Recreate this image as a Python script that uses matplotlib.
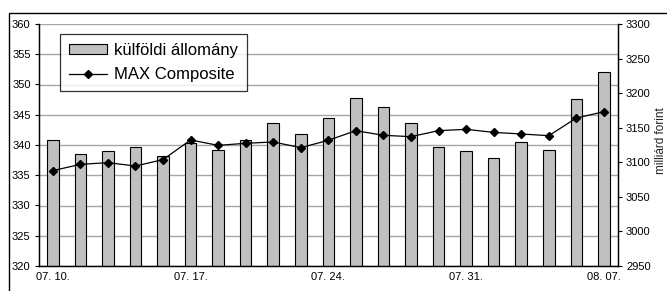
import numpy as np
import matplotlib.pyplot as plt
from matplotlib.patches import Rectangle

plt.rcParams["font.family"] = ["Liberation Sans", "DejaVu Sans"]

# trading days 07.10 - 08.07, labels on every Monday
dates = ["07. 10.", "07. 11.", "07. 12.", "07. 13.", "07. 14.",
         "07. 17.", "07. 18.", "07. 19.", "07. 20.", "07. 21.",
         "07. 24.", "07. 25.", "07. 26.", "07. 27.", "07. 28.",
         "07. 31.", "08. 01.", "08. 02.", "08. 03.", "08. 04.",
         "08. 07."]
tick_idx = [0, 5, 10, 15, 20]

# foreign holdings, milliárd forint (right axis)
kulfoldi = [3131.8, 3111.5, 3115.9, 3122.6, 3109.1, 3127.5, 3117.7,
            3131.8, 3156.9, 3141.4, 3163.6, 3193.4, 3179.8, 3156.9,
            3122.6, 3115.9, 3106.6, 3129.8, 3117.7, 3191.5, 3230.6]
# MAX Composite index (left axis)
max_comp = [335.76, 336.80, 337.08, 336.53, 337.58, 340.83, 339.94,
            340.28, 340.50, 339.56, 340.78, 342.37, 341.60, 341.38,
            342.37, 342.59, 342.09, 341.82, 341.54, 344.46, 345.50]

W, H = 667, 291
fig = plt.figure(figsize=(W / 100, H / 100), dpi=100)
fig.patch.set_facecolor("white")

# outer frame of the original exhibit
fig.add_artist(Rectangle((9 / W, -0.2), 1.0, 1 - 13 / H + 0.2,
                         transform=fig.transFigure, fill=False,
                         edgecolor="black", lw=1.0))

x = np.arange(len(dates))
left, right, top, bottom = 39 / W, 617.7 / W, 1 - 24 / H, 1 - 266 / H
ax = fig.add_axes([left, bottom, right - left, top - bottom])  # bars
ax2 = ax.twinx()                                              # line

# gridlines at the left-axis steps
for g in np.linspace(2950, 3300, 9):
    ax.axhline(g, color="#a6a6a6", lw=1.0, zorder=0)

bars = ax.bar(x, kulfoldi, width=0.42, color="#c0c0c0", edgecolor="black",
              linewidth=0.8, zorder=2, label="külföldi állomány")
ax.set_ylim(2950, 3300)
ax.set_yticks(np.arange(2950, 3301, 50))
ax.yaxis.tick_right()
ax.yaxis.set_label_position("right")
ax.set_ylabel("milliárd forint", fontsize=8.5, color="#222222")
ax.yaxis.set_label_coords(1.0645, 0.52)
ax.set_xlim(-0.5, len(dates) - 0.5)
ax.set_xticks([x[i] for i in tick_idx])
ax.set_xticklabels([dates[i] for i in tick_idx])
ax.tick_params(axis="x", length=0, labelsize=8, pad=4)
ax.tick_params(axis="y", direction="out", length=3, width=0.8,
               labelsize=8, pad=3)

line, = ax2.plot(x, max_comp, color="black", lw=0.9, marker="D",
                 markersize=4.2, label="MAX Composite")
ax2.set_ylim(320, 360)
ax2.set_yticks(np.arange(320, 361, 5))
ax2.yaxis.tick_left()
ax2.tick_params(axis="y", direction="out", length=3, width=0.8,
                labelsize=8, pad=3)

for a in (ax, ax2):
    a.spines["top"].set_visible(False)
    for s in ("left", "right", "bottom"):
        a.spines[s].set_linewidth(0.9)

leg = ax2.legend([bars, line], ["külföldi állomány", "MAX Composite"],
                 loc="upper left", bbox_to_anchor=(0.036, 0.959),
                 borderaxespad=0, fontsize=12, frameon=True,
                 fancybox=False, edgecolor="black", handlelength=2.3,
                 handleheight=0.55, borderpad=0.55, labelspacing=0.55,
                 handletextpad=0.4)
leg.get_frame().set_linewidth(0.9)

fig.savefig("out.png", dpi=100, facecolor="white")
